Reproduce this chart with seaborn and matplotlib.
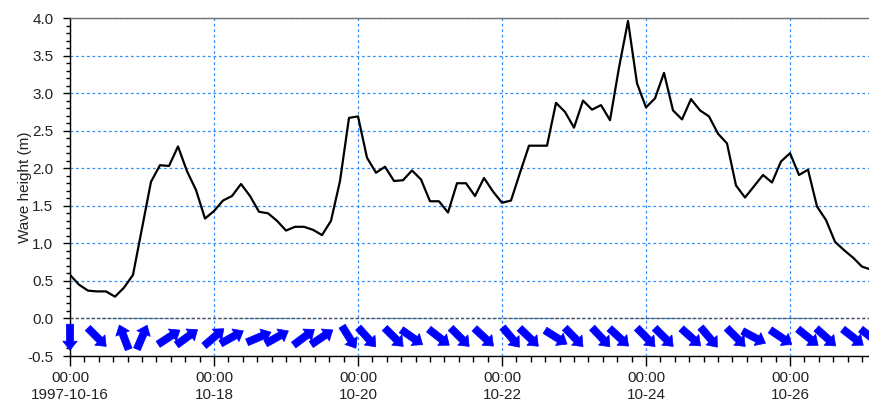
import matplotlib
matplotlib.use("Agg")
import matplotlib.pyplot as plt
import matplotlib.dates as mdates
import matplotlib.ticker as mticker
from matplotlib.transforms import ScaledTranslation
import seaborn as sns
import pandas as pd
import numpy as np

# wave height, 3-hourly from 1997-10-16 00:00
start = pd.Timestamp("1997-10-16 00:00")
hours = np.arange(0, 268, 3)
wave_height = [
    0.58, 0.45, 0.37, 0.36, 0.36, 0.29, 0.41, 0.58, 1.20, 1.82,
    2.04, 2.03, 2.29, 1.96, 1.71, 1.33, 1.43, 1.57, 1.63, 1.79,
    1.63, 1.42, 1.40, 1.30, 1.17, 1.22, 1.22, 1.18, 1.11, 1.30,
    1.83, 2.67, 2.69, 2.14, 1.94, 2.02, 1.83, 1.84, 1.97, 1.85,
    1.56, 1.56, 1.41, 1.80, 1.80, 1.63, 1.87, 1.69, 1.54, 1.57,
    1.94, 2.30, 2.30, 2.30, 2.87, 2.75, 2.54, 2.90, 2.78, 2.84,
    2.64, 3.34, 3.96, 3.13, 2.81, 2.93, 3.27, 2.77, 2.65, 2.92,
    2.77, 2.69, 2.46, 2.33, 1.77, 1.61, 1.76, 1.91, 1.81, 2.09,
    2.20, 1.91, 1.98, 1.49, 1.31, 1.02, 0.91, 0.81, 0.69, 0.65,
]

# wave direction arrows (hours from start, direction toward in degrees from north)
arrow_hours = [0, 9, 18, 24, 33, 39, 48, 54, 63, 69,
               78, 84, 93, 99, 108, 114, 123, 130, 138, 147,
               153, 162, 168, 177, 183, 192, 198, 207, 213, 222,
               228, 237, 246, 252, 261, 267]
arrow_dir = [180, 135, 339, 23, 57, 54, 49, 61, 67, 61,
             53, 56, 148, 138, 135, 125, 128, 135, 133, 140,
             134, 122, 136, 137, 133, 136, 135, 132, 140, 135,
             118, 124, 129, 132, 128, 128]
arrow_level = -0.25

tick_days = ["1997-10-16", "1997-10-18", "1997-10-20",
             "1997-10-22", "1997-10-24", "1997-10-26"]

sns.set_style("white")
plt.rcParams["font.family"] = ["Liberation Sans", "DejaVu Sans"]
plt.rcParams["axes.unicode_minus"] = False

W, H = 869, 403
fig = plt.figure(figsize=(W / 100, H / 100), dpi=100)
ax = fig.add_axes([70 / W, 47 / H, 799 / W, 338 / H])

df = pd.DataFrame({"time": start + pd.to_timedelta(hours, unit="h"),
                   "height": wave_height})
sns.lineplot(data=df, x="time", y="height", color="black", lw=1.6, ax=ax,
             zorder=3)

ax.set_xlim(start, start + pd.Timedelta(hours=266.33))
ax.set_ylim(-0.5, 4.0)

# axes styling
blue = "#2e8fff"
ax.grid(True, which="major", color=blue, ls=(0, (2.2, 2.2)), lw=0.9)
ax.axhline(0, color="#505050", ls=(0, (2.2, 1.6)), lw=1.0, zorder=2)
for s in ["left", "bottom"]:
    ax.spines[s].set_color("black")
    ax.spines[s].set_linewidth(1.0)
ax.spines["top"].set_color("#707070")
ax.spines["top"].set_linewidth(1.0)
ax.spines["right"].set_visible(False)

ax.yaxis.set_major_locator(mticker.MultipleLocator(0.5))
ax.yaxis.set_minor_locator(mticker.MultipleLocator(0.1))
ax.yaxis.set_major_formatter(mticker.FormatStrFormatter("%.1f"))

ticks = [mdates.date2num(pd.Timestamp(d)) for d in tick_days]
ax.xaxis.set_major_locator(mticker.FixedLocator(ticks))
ax.xaxis.set_minor_locator(mticker.MultipleLocator(0.2))


def fmt_date(v, pos=None):
    d = mdates.num2date(v)
    if pos == 0:
        return d.strftime("%H:%M\n%Y-%m-%d")
    return d.strftime("%H:%M\n%m-%d")


ax.xaxis.set_major_formatter(mticker.FuncFormatter(fmt_date))

ax.tick_params(axis="both", which="both", direction="out", color="black",
               width=1, labelsize=11, labelcolor="#222222")
ax.tick_params(axis="y", which="major", length=5, pad=7)
ax.tick_params(axis="y", which="minor", length=3)
ax.tick_params(axis="x", which="major", length=7, pad=4)
ax.tick_params(axis="x", which="minor", length=4)
ax.tick_params(left=True, bottom=True, which="both")
for lab in ax.get_xticklabels():
    lab.set_linespacing(1.25)

ax.set_xlabel("")
ax.set_ylabel("Wave height (m)", fontsize=11, color="#222222")
ax.yaxis.set_label_coords(-38 / 799, 0.5)

# direction arrows, centred on their time
half = 0.13  # inches
for h, d in zip(arrow_hours, arrow_dir):
    x = mdates.date2num(start + pd.Timedelta(hours=h))
    th = np.deg2rad(d)
    dx, dy = half * np.sin(th), half * np.cos(th)
    head = ax.transData + ScaledTranslation(dx, dy, fig.dpi_scale_trans)
    tail = ax.transData + ScaledTranslation(-dx, -dy, fig.dpi_scale_trans)
    ax.annotate("", xy=(x, arrow_level), xycoords=head,
                xytext=(x, arrow_level), textcoords=tail,
                annotation_clip=False,
                arrowprops=dict(arrowstyle="simple,head_length=0.5,head_width=0.8,tail_width=0.4",
                                color="blue", mutation_scale=13,
                                shrinkA=0, shrinkB=0, lw=0.5))

fig.savefig("out.png", dpi=100)
